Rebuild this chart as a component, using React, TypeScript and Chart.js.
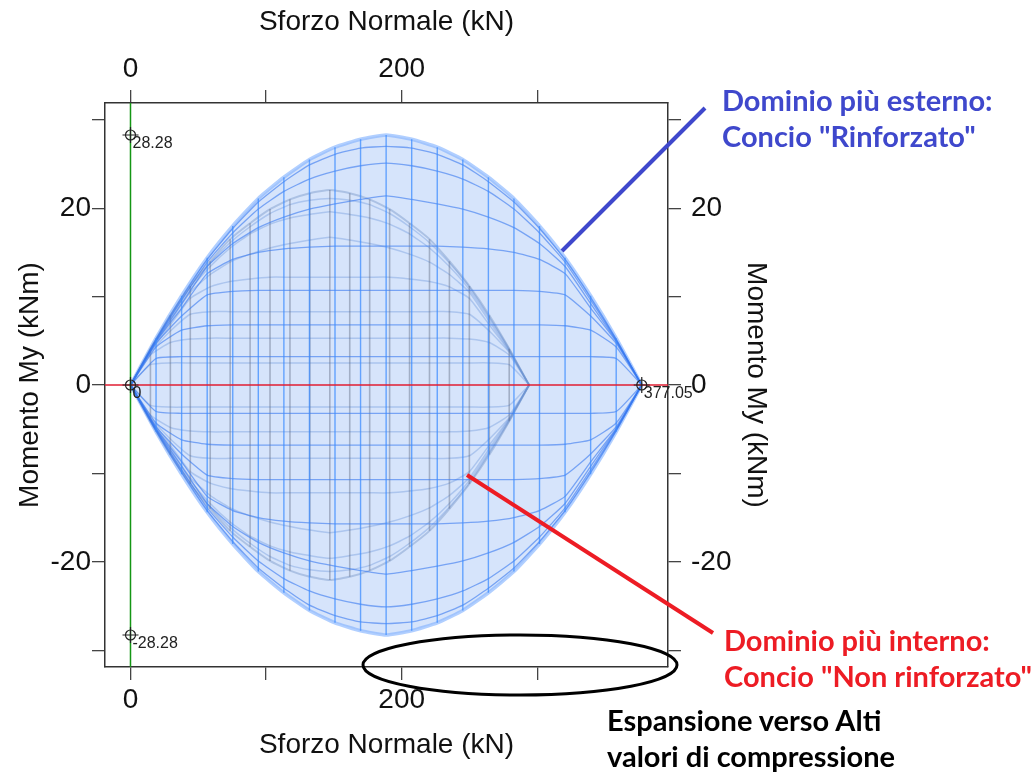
import React, { useEffect, useRef } from 'react';
import { Chart, registerables } from 'chart.js';

Chart.register(...registerables);

// ---------- DATA ----------
// Axial force positions (kN) of the mesh columns
const outerN = [0, 18.85, 37.71, 56.56, 75.41, 94.26, 113.12, 131.97, 150.82, 169.67, 188.53, 207.38, 226.23, 245.08, 263.94, 282.79, 301.64, 320.49, 339.35, 358.2, 377.05];
const innerN = [0, 14.7, 29.4, 44.1, 58.8, 73.5, 88.2, 102.9, 117.6, 132.3, 147.0, 161.7, 176.4, 191.1, 205.8, 220.5, 235.2, 249.9, 264.6, 279.3, 294.0];

// Outer domain ("Rinforzato") – moment My (kNm) of each mesh curve, upper half
const outerTopA = [0, 5.3, 10.1, 14.4, 18.0, 21.1, 23.5, 25.5, 26.9, 27.8, 28.28, 27.8, 26.9, 25.5, 23.5, 21.1, 18.0, 14.4, 10.1, 5.3, 0];
const outerTopB = [0, 5.2, 9.9, 14.2, 17.7, 20.7, 23.0, 24.9, 26.1, 26.8, 27.0, 26.8, 26.1, 24.9, 23.0, 20.7, 17.7, 14.2, 9.9, 5.2, 0];
const outerTopC = [0, 5.1, 9.6, 13.9, 17.2, 19.9, 21.9, 23.3, 24.2, 24.8, 25.1, 24.8, 24.2, 23.3, 21.9, 19.9, 17.2, 13.9, 9.6, 5.1, 0];
const outerTopD = [0, 5.0, 9.2, 13.4, 16.0, 17.8, 19.0, 19.9, 20.5, 21.0, 21.4, 21.0, 20.5, 19.9, 19.0, 17.8, 16.0, 13.4, 9.2, 5.0, 0];
const outerTopE = [0, 4.9, 8.7, 12.6, 14.2, 15.0, 15.4, 15.6, 15.7, 15.7, 15.7, 15.7, 15.7, 15.6, 15.4, 15.0, 14.2, 12.6, 8.7, 4.9, 0];
const outerTopF = [0, 4.7, 7.8, 10.2, 10.6, 10.7, 10.7, 10.7, 10.7, 10.7, 10.7, 10.7, 10.7, 10.7, 10.7, 10.7, 10.6, 10.2, 7.8, 4.7, 0];
const outerTopG = [0, 4.3, 6.2, 6.7, 6.8, 6.8, 6.8, 6.8, 6.8, 6.8, 6.8, 6.8, 6.8, 6.8, 6.8, 6.8, 6.8, 6.7, 6.2, 4.3, 0];
const outerTopH = [0, 3.0, 3.2, 3.2, 3.2, 3.2, 3.2, 3.2, 3.2, 3.2, 3.2, 3.2, 3.2, 3.2, 3.2, 3.2, 3.2, 3.2, 3.2, 3.0, 0];

// Outer domain, lower half
const outerBotA = [0, -5.3, -10.1, -14.4, -18.0, -21.1, -23.5, -25.5, -26.9, -27.8, -28.28, -27.8, -26.9, -25.5, -23.5, -21.1, -18.0, -14.4, -10.1, -5.3, 0];
const outerBotB = [0, -5.2, -9.9, -14.2, -17.7, -20.7, -23.0, -24.9, -26.1, -26.8, -27.0, -26.8, -26.1, -24.9, -23.0, -20.7, -17.7, -14.2, -9.9, -5.2, 0];
const outerBotC = [0, -5.1, -9.6, -13.9, -17.2, -19.9, -21.9, -23.3, -24.2, -24.8, -25.1, -24.8, -24.2, -23.3, -21.9, -19.9, -17.2, -13.9, -9.6, -5.1, 0];
const outerBotD = [0, -5.0, -9.2, -13.4, -16.0, -17.8, -19.0, -19.9, -20.5, -21.0, -21.4, -21.0, -20.5, -19.9, -19.0, -17.8, -16.0, -13.4, -9.2, -5.0, 0];
const outerBotE = [0, -4.9, -8.7, -12.6, -14.2, -15.0, -15.4, -15.6, -15.7, -15.7, -15.7, -15.7, -15.7, -15.6, -15.4, -15.0, -14.2, -12.6, -8.7, -4.9, 0];
const outerBotF = [0, -4.7, -7.8, -10.2, -10.6, -10.7, -10.7, -10.7, -10.7, -10.7, -10.7, -10.7, -10.7, -10.7, -10.7, -10.7, -10.6, -10.2, -7.8, -4.7, 0];
const outerBotG = [0, -4.3, -6.2, -6.7, -6.8, -6.8, -6.8, -6.8, -6.8, -6.8, -6.8, -6.8, -6.8, -6.8, -6.8, -6.8, -6.8, -6.7, -6.2, -4.3, 0];
const outerBotH = [0, -3.0, -3.2, -3.2, -3.2, -3.2, -3.2, -3.2, -3.2, -3.2, -3.2, -3.2, -3.2, -3.2, -3.2, -3.2, -3.2, -3.2, -3.2, -3.0, 0];

// Inner domain ("Non rinforzato"), upper half
const innerTopA = [0, 4.1, 7.9, 11.2, 14.0, 16.5, 18.3, 19.9, 21.0, 21.7, 22.06, 21.7, 21.0, 19.9, 18.3, 16.5, 14.0, 11.2, 7.9, 4.1, 0];
const innerTopB = [0, 4.1, 7.7, 11.1, 13.8, 16.1, 17.9, 19.4, 20.4, 20.9, 21.1, 20.9, 20.4, 19.4, 17.9, 16.1, 13.8, 11.1, 7.7, 4.1, 0];
const innerTopC = [0, 4.0, 7.5, 10.8, 13.4, 15.5, 17.1, 18.2, 18.9, 19.3, 19.6, 19.3, 18.9, 18.2, 17.1, 15.5, 13.4, 10.8, 7.5, 4.0, 0];
const innerTopD = [0, 3.9, 7.2, 10.5, 12.5, 13.9, 14.8, 15.5, 16.0, 16.4, 16.7, 16.4, 16.0, 15.5, 14.8, 13.9, 12.5, 10.5, 7.2, 3.9, 0];
const innerTopE = [0, 3.8, 6.8, 9.8, 11.1, 11.7, 12.0, 12.2, 12.2, 12.2, 12.2, 12.2, 12.2, 12.2, 12.0, 11.7, 11.1, 9.8, 6.8, 3.8, 0];
const innerTopF = [0, 3.7, 6.1, 8.0, 8.3, 8.3, 8.3, 8.3, 8.3, 8.3, 8.3, 8.3, 8.3, 8.3, 8.3, 8.3, 8.3, 8.0, 6.1, 3.7, 0];
const innerTopG = [0, 3.4, 4.8, 5.2, 5.3, 5.3, 5.3, 5.3, 5.3, 5.3, 5.3, 5.3, 5.3, 5.3, 5.3, 5.3, 5.3, 5.2, 4.8, 3.4, 0];
const innerTopH = [0, 2.3, 2.5, 2.5, 2.5, 2.5, 2.5, 2.5, 2.5, 2.5, 2.5, 2.5, 2.5, 2.5, 2.5, 2.5, 2.5, 2.5, 2.5, 2.3, 0];

// Inner domain, lower half
const innerBotA = [0, -4.1, -7.9, -11.2, -14.0, -16.5, -18.3, -19.9, -21.0, -21.7, -22.06, -21.7, -21.0, -19.9, -18.3, -16.5, -14.0, -11.2, -7.9, -4.1, 0];
const innerBotB = [0, -4.1, -7.7, -11.1, -13.8, -16.1, -17.9, -19.4, -20.4, -20.9, -21.1, -20.9, -20.4, -19.4, -17.9, -16.1, -13.8, -11.1, -7.7, -4.1, 0];
const innerBotC = [0, -4.0, -7.5, -10.8, -13.4, -15.5, -17.1, -18.2, -18.9, -19.3, -19.6, -19.3, -18.9, -18.2, -17.1, -15.5, -13.4, -10.8, -7.5, -4.0, 0];
const innerBotD = [0, -3.9, -7.2, -10.5, -12.5, -13.9, -14.8, -15.5, -16.0, -16.4, -16.7, -16.4, -16.0, -15.5, -14.8, -13.9, -12.5, -10.5, -7.2, -3.9, 0];
const innerBotE = [0, -3.8, -6.8, -9.8, -11.1, -11.7, -12.0, -12.2, -12.2, -12.2, -12.2, -12.2, -12.2, -12.2, -12.0, -11.7, -11.1, -9.8, -6.8, -3.8, 0];
const innerBotF = [0, -3.7, -6.1, -8.0, -8.3, -8.3, -8.3, -8.3, -8.3, -8.3, -8.3, -8.3, -8.3, -8.3, -8.3, -8.3, -8.3, -8.0, -6.1, -3.7, 0];
const innerBotG = [0, -3.4, -4.8, -5.2, -5.3, -5.3, -5.3, -5.3, -5.3, -5.3, -5.3, -5.3, -5.3, -5.3, -5.3, -5.3, -5.3, -5.2, -4.8, -3.4, 0];
const innerBotH = [0, -2.3, -2.5, -2.5, -2.5, -2.5, -2.5, -2.5, -2.5, -2.5, -2.5, -2.5, -2.5, -2.5, -2.5, -2.5, -2.5, -2.5, -2.5, -2.3, 0];

// Labelled markers
const markerN = [0, 0, 0, 377.05];
const markerM = [28.28, -28.28, 0, 0];
const markerLabels = ['28.28', '-28.28', '0', '377.05'];

// Axis reference lines
const zeroLineN = [-40, 450];
const zeroLineM = [-40, 40];

// Axes
const xRange = [-18.8, 396.4];
const yRange = [-31.9, 31.9];
const xLabeledTicks = [0, 200];
const yLabeledTicks = [-20, 0, 20];

// ---------- HELPERS ----------
type Pt = { x: number; y: number | null };
const pts = (xs: number[], ys: number[]): Pt[] => xs.map((x, i) => ({ x, y: ys[i] }));
const verticals = (xs: number[], tops: number[], bots: number[]): Pt[] => {
  const out: Pt[] = [];
  xs.forEach((x, i) => {
    out.push({ x, y: tops[i] }, { x, y: bots[i] }, { x, y: null });
  });
  return out;
};
const lineDs = (data: Pt[], color: string, width: number, extra: any = {}) => ({
  data,
  showLine: true,
  borderColor: color,
  backgroundColor: color,
  borderWidth: width,
  pointRadius: 0,
  pointHoverRadius: 0,
  fill: false,
  tension: 0,
  spanGaps: false,
  ...extra,
});

const FONT = "'Liberation Sans', Arial, sans-serif";

export default function App() {
  const ref = useRef<HTMLCanvasElement>(null);

  useEffect(() => {
    const datasets: any[] = [];
    // outer fill + boundary
    datasets.push(lineDs(pts(outerN, outerTopA), 'rgba(125,175,255,0.6)', 3.5, { fill: '+1', backgroundColor: '#d6e4fb', tension: 0.15 }));
    datasets.push(lineDs(pts(outerN, outerBotA), 'rgba(125,175,255,0.6)', 3.5, { tension: 0.15 }));

    // inner domain
    const innerCol = 'rgba(95,140,215,0.35)';
    [innerTopB, innerTopC, innerTopD, innerTopE, innerTopF, innerTopG, innerTopH,
      innerBotB, innerBotC, innerBotD, innerBotE, innerBotF, innerBotG, innerBotH].forEach((arr) =>
      datasets.push(lineDs(pts(innerN, arr), innerCol, 1.5, { tension: 0.15 })));
    datasets.push(lineDs(pts(innerN, innerTopA), 'rgba(120,150,200,0.45)', 2, { tension: 0.15 }));
    datasets.push(lineDs(pts(innerN, innerBotA), 'rgba(120,150,200,0.45)', 2, { tension: 0.15 }));
    datasets.push(lineDs(verticals(innerN, innerTopA, innerBotA), 'rgba(85,95,120,0.4)', 1.6));

    // outer mesh curves
    const outerCol = 'rgba(55,120,240,0.6)';
    [outerTopB, outerTopC, outerTopD, outerTopE, outerTopF, outerTopG, outerTopH,
      outerBotB, outerBotC, outerBotD, outerBotE, outerBotF, outerBotG, outerBotH].forEach((arr) =>
      datasets.push(lineDs(pts(outerN, arr), outerCol, 1.3, { tension: 0.15 })));
    datasets.push(lineDs(verticals(outerN, outerTopA, outerBotA), 'rgba(60,140,255,0.75)', 1.4));

    // axis lines
    datasets.push(lineDs(pts(zeroLineN, [0, 0]), 'rgb(225,30,50)', 1.5));
    datasets.push(lineDs(pts([0, 0], zeroLineM), 'rgb(20,150,20)', 1.5));

    // markers
    const markerIndex = datasets.length;
    datasets.push({
      data: pts(markerN, markerM), showLine: false, pointStyle: 'circle', pointRadius: 5,
      pointBorderColor: '#222', pointBackgroundColor: 'rgba(0,0,0,0)', pointBorderWidth: 1.2, pointHoverRadius: 5,
    });
    datasets.push({
      data: pts(markerN, markerM), showLine: false, pointStyle: 'cross', pointRadius: 8,
      pointBorderColor: '#222', pointBackgroundColor: 'rgba(0,0,0,0)', pointBorderWidth: 1.2, pointHoverRadius: 8,
    });

    datasets.forEach((d, i) => { d.order = 1000 - i; });

    const markerLabelPlugin = {
      id: 'markerLabels',
      afterDatasetsDraw(chart: any) {
        const meta = chart.getDatasetMeta(markerIndex);
        const ctx = chart.ctx;
        ctx.save();
        ctx.font = `16px ${FONT}`;
        ctx.fillStyle = '#222';
        ctx.textAlign = 'left';
        ctx.textBaseline = 'top';
        meta.data.forEach((el: any, i: number) => ctx.fillText(markerLabels[i], el.x + 2, el.y + 1));
        ctx.restore();
      },
    };

    const tickFont = { family: FONT, size: 28 };
    const titleFont = { family: FONT, size: 28 };
    const grid = { drawOnChartArea: false, drawTicks: true, tickLength: 13, color: '#444', lineWidth: 1.3 };
    const border = { display: true, color: '#333', width: 1.5 };
    const xTicks = {
      stepSize: 100, includeBounds: false, autoSkip: false, maxRotation: 0, minRotation: 0,
      color: '#111', font: tickFont,
      callback: (v: any) => (xLabeledTicks.includes(Number(v)) ? String(v) : ''),
    };
    const yTicks = {
      stepSize: 10, includeBounds: false, autoSkip: false,
      color: '#111', font: tickFont,
      callback: (v: any) => (yLabeledTicks.includes(Number(v)) ? String(v) : ''),
    };

    const chart = new Chart(ref.current as HTMLCanvasElement, {
      type: 'scatter',
      data: { datasets },
      plugins: [markerLabelPlugin],
      options: {
        responsive: false,
        animation: false,
        devicePixelRatio: 1,
        events: [],
        layout: { padding: { left: 9, right: 255, top: 1, bottom: 6 } },
        plugins: { legend: { display: false }, tooltip: { enabled: false } },
        scales: {
          x: {
            type: 'linear', position: 'bottom', min: xRange[0], max: xRange[1],
            afterFit: (s: any) => { s.height = 99; },
            ticks: { ...xTicks, padding: 3 }, grid, border,
            title: { display: true, text: 'Sforzo Normale (kN)', font: titleFont, color: '#111', padding: { top: 4, bottom: 4 } },
          },
          x2: {
            type: 'linear', position: 'top', min: xRange[0], max: xRange[1],
            afterFit: (s: any) => { s.height = 102; },
            ticks: { ...xTicks, padding: 4 }, grid, border,
            title: { display: true, text: 'Sforzo Normale (kN)', font: titleFont, color: '#111', padding: { top: 4, bottom: 4 } },
          },
          y: {
            type: 'linear', position: 'left', min: yRange[0], max: yRange[1],
            afterFit: (s: any) => { s.width = 96; },
            ticks: { ...yTicks, padding: 1 }, grid, border,
            title: { display: true, text: 'Momento My (kNm)', font: titleFont, color: '#111', padding: { top: 4, bottom: 4 } },
          },
          y2: {
            type: 'linear', position: 'right', min: yRange[0], max: yRange[1],
            afterFit: (s: any) => { s.width = 109; },
            ticks: { ...yTicks, padding: 10 }, grid, border,
            title: { display: true, text: 'Momento My (kNm)', font: titleFont, color: '#111', padding: { top: 4, bottom: 4 } },
          },
        },
      } as any,
    });
    return () => chart.destroy();
  }, []);

  const annFont = "Lato, 'Open Sans', sans-serif";
  const textStyle = (left: number, top: number, color: string): React.CSSProperties => ({
    position: 'absolute', left, top, color, fontFamily: annFont, fontWeight: 700,
    fontSize: 29, lineHeight: '36px', whiteSpace: 'nowrap',
  });

  return (
    <div style={{ position: 'absolute', left: 0, top: 0, width: 1032, height: 772, background: '#fff', overflow: 'hidden' }}>
      <canvas ref={ref} width={1032} height={772} style={{ position: 'absolute', left: 0, top: 0, width: 1032, height: 772 }} />
      <svg width={1032} height={772} style={{ position: 'absolute', left: 0, top: 0 }}>
        <line x1={705} y1={108} x2={562} y2={251} stroke="#3F48CC" strokeWidth={4} />
        <line x1={467} y1={475} x2={713} y2={633} stroke="#ED1C24" strokeWidth={4} />
        <ellipse cx={520} cy={665} rx={157} ry={30} fill="none" stroke="#000" strokeWidth={3} />
      </svg>
      <div style={textStyle(722, 82, '#3F48CC')}>
        <div>Dominio più esterno:</div>
        <div>Concio "Rinforzato"</div>
      </div>
      <div style={textStyle(724, 622, '#ED1C24')}>
        <div>Dominio più interno:</div>
        <div>Concio "Non rinforzato"</div>
      </div>
      <div style={textStyle(607, 702, '#000')}>
        <div>Espansione verso Alti</div>
        <div>valori di compressione</div>
      </div>
    </div>
  );
}
